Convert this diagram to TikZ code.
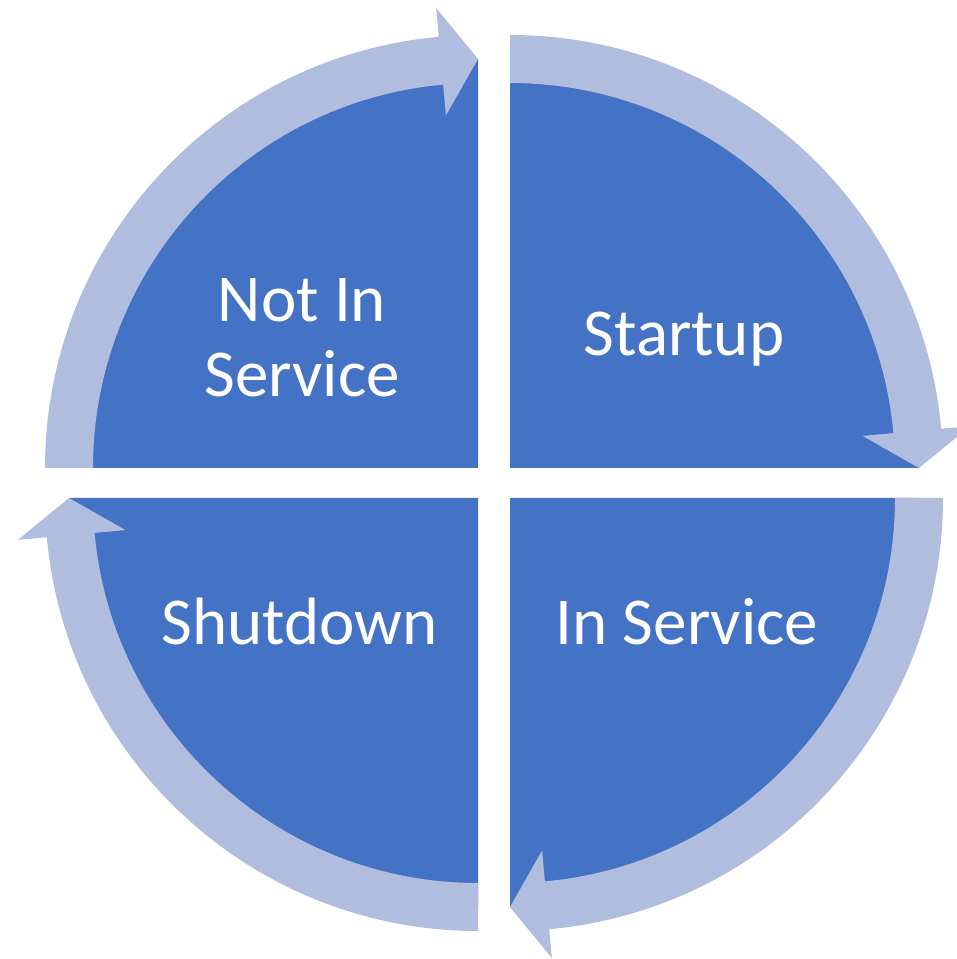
\documentclass[tikz,border=0pt]{standalone}
\usepackage{fontspec}
\setmainfont{Carlito}
\usepackage{xcolor}
\usepackage{tikz}
\definecolor{quadblue}{HTML}{4472C4}
\definecolor{ringblue}{RGB}{177,189,222}

\begin{document}
\begin{tikzpicture}[x=0.5pt,y=0.5pt,
  quadrant/.style={fill=quadblue},
  ring/.style={fill=ringblue},
  every node/.style={text=white,font=\fontsize{33.5}{37.5}\selectfont,inner sep=0pt}]
  \useasboundingbox (0,0) rectangle (957,959);
  \clip (0,0) rectangle (957,959);
  % four quarters
  \fill[quadrant,shift={(478,491)}] (0,0) -- (180:409) arc[start angle=180,end angle=90,radius=409] -- cycle;
  \fill[quadrant,shift={(510,491)}] (0,0) -- (90:409) arc[start angle=90,end angle=0,radius=409] -- cycle;
  \fill[quadrant,shift={(510,461)}] (0,0) -- (0:409) arc[start angle=0,end angle=-90,radius=409] -- cycle;
  \fill[quadrant,shift={(478,461)}] (0,0) -- (-90:409) arc[start angle=-90,end angle=-180,radius=409] -- cycle;
  % curved arrows, clockwise
  \fill[ring,shift={(478,491)}] (180:385) -- (180:433) arc[start angle=180,end angle=95.2,radius=433]
    -- (95.2:462) -- (90:409) -- (95.2:354) -- (95.2:385) arc[start angle=95.2,end angle=180,radius=385] -- cycle;
  \fill[ring,shift={(510,491)}] (90:385) -- (90:433) arc[start angle=90,end angle=5.2,radius=433]
    -- (5.2:462) -- (0:409) -- (5.2:354) -- (5.2:385) arc[start angle=5.2,end angle=90,radius=385] -- cycle;
  \fill[ring,shift={(510,461)}] (0:385) -- (0:433) arc[start angle=0,end angle=-84.8,radius=433]
    -- (-84.8:462) -- (-90:409) -- (-84.8:354) -- (-84.8:385) arc[start angle=-84.8,end angle=0,radius=385] -- cycle;
  \fill[ring,shift={(478,461)}] (-90:385) -- (-90:433) arc[start angle=-90,end angle=-174.8,radius=433]
    -- (-174.8:462) -- (-180:409) -- (-174.8:354) -- (-174.8:385) arc[start angle=-174.8,end angle=-90,radius=385] -- cycle;
  % labels
  \node[align=center] (notinservice) at (302,621) {Not In\\Service};
  \node[anchor=base] (startup) at (684,603) {Startup};
  \node[anchor=base] (shutdown) at (300,314) {Shutdown};
  \node[anchor=base] (inservice) at (687,314) {In Service};
\end{tikzpicture}
\end{document}
